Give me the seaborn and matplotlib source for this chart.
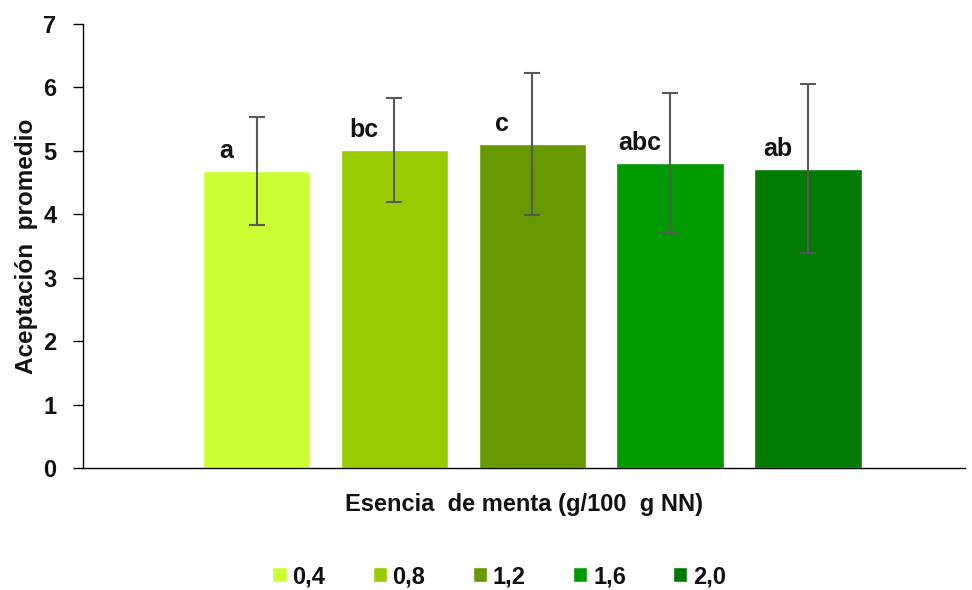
import matplotlib
matplotlib.use("Agg")
import matplotlib.pyplot as plt
import pandas as pd
import seaborn as sns

# Data
doses = ["0,4", "0,8", "1,2", "1,6", "2,0"]
means = [4.68, 5.02, 5.11, 4.81, 4.72]
sds = [0.85, 0.82, 1.12, 1.10, 1.33]
letters = ["a", "bc", "c", "abc", "ab"]
colors = ["#CCFF33", "#99CC00", "#669900", "#009900", "#007A00"]

df = pd.DataFrame({"dose": doses, "mean": means, "sd": sds})

sns.set_style("white")
plt.rcParams["font.family"] = ["Liberation Sans", "DejaVu Sans"]
plt.rcParams["font.weight"] = "bold"
plt.rcParams["text.color"] = "#111111"
plt.rcParams["axes.labelcolor"] = "#111111"
plt.rcParams["ytick.color"] = "#111111"

fig, ax = plt.subplots(figsize=(9.72, 5.90), dpi=100)
fig.subplots_adjust(left=83/972, right=965/972, top=1-24/590, bottom=1-468/590)

sns.barplot(data=df, x="dose", y="mean", hue="dose", palette=colors,
            dodge=False, width=0.78, legend=True, ax=ax, saturation=1)
ax.errorbar(range(len(doses)), df["mean"], yerr=df["sd"], fmt="none",
            ecolor="#595959", elinewidth=1.5, capsize=6, capthick=1.5)

for i, (m, lab) in enumerate(zip(means, letters)):
    ax.text(i - 0.22, m + 0.31, lab, ha="center", va="center",
            fontsize=18, fontweight="bold")

ax.set_xlim(-1.26, 5.14)
ax.set_ylim(0, 7)
ax.set_yticks(range(0, 8))
ax.set_xticks([])
ax.tick_params(axis="y", direction="out", length=7, width=1, color="black",
               labelsize=17, pad=12, left=True)
for lbl in ax.get_yticklabels():
    lbl.set_fontweight("bold")
for s in ["top", "right"]:
    ax.spines[s].set_visible(False)
for s in ["left", "bottom"]:
    ax.spines[s].set_color("black")
    ax.spines[s].set_linewidth(1)

ax.set_xlabel("Esencia  de menta (g/100  g NN)", fontsize=17, fontweight="bold", labelpad=18)
ax.set_ylabel("Aceptación  promedio", fontsize=17.5, fontweight="bold", labelpad=4)

leg = ax.legend(loc="center", bbox_to_anchor=(0.472, -0.245), ncol=5, frameon=False,
                fontsize=17, handlelength=0.6, handleheight=0.6, handletextpad=0.25,
                columnspacing=2.0)
for t in leg.get_texts():
    t.set_fontweight("bold")

fig.savefig("out.png", dpi=100)
